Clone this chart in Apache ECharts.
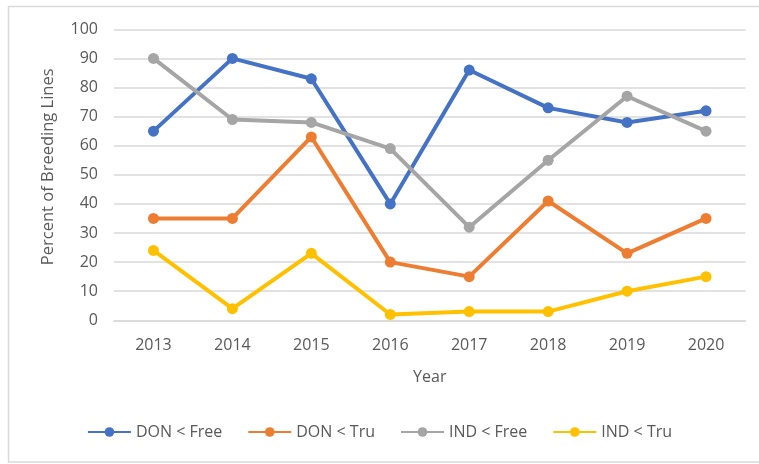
<!DOCTYPE html>
<html><head><meta charset="utf-8">
<script src="https://cdn.jsdelivr.net/npm/echarts@6/dist/echarts.min.js"></script>
<style>html,body{margin:0;padding:0;background:#fff}#c{width:759px;height:464px}</style>
</head><body><div id="c"></div>
<script>
const years = ['2013','2014','2015','2016','2017','2018','2019','2020'];
const donFree = [65, 90, 83, 40, 86, 73, 68, 72];
const donTru = [35, 35, 63, 20, 15, 41, 23, 35];
const indFree = [90, 69, 68, 59, 32, 55, 77, 65];
const indTru = [24, 4, 23, 2, 3, 3, 10, 15];
const seriesNames = ['DON < Free', 'DON < Tru', 'IND < Free', 'IND < Tru'];
const colors = ['#4472C4', '#ED7D31', '#A5A5A5', '#FFC000'];
const allData = [donFree, donTru, indFree, indTru];

const font = '"Open Sans", "Noto Sans", sans-serif';
const chart = echarts.init(document.getElementById('c'), null, {renderer: 'canvas'});
chart.setOption({
  animation: false,
  backgroundColor: '#fff',
  textStyle: {fontFamily: font},
  graphic: [{type: 'rect', shape: {x: 8.5, y: 6.5, width: 760, height: 455.5},
    style: {fill: 'none', stroke: '#d9d9d9', lineWidth: 1.5}, silent: true, z: -1}],
  grid: {left: 114, right: 13.5, top: 29.3, bottom: 143.7},
  xAxis: {
    type: 'category', data: years, boundaryGap: true,
    name: 'Year', nameLocation: 'middle', nameGap: 49,
    nameTextStyle: {color: '#595959', fontSize: 16, fontFamily: font},
    axisLine: {show: true, lineStyle: {color: '#d9d9d9', width: 1.5}},
    axisTick: {show: false},
    axisLabel: {color: '#595959', fontSize: 16, margin: 17, fontFamily: font}
  },
  yAxis: {
    type: 'value', min: 0, max: 100, interval: 10,
    name: 'Percent of Breeding Lines', nameLocation: 'middle', nameGap: 57,
    nameTextStyle: {color: '#595959', fontSize: 16.5, fontFamily: font, padding: [0, 0, 0, 16]},
    axisLine: {show: false}, axisTick: {show: false},
    axisLabel: {color: '#595959', fontSize: 16, margin: 16, fontFamily: font},
    splitLine: {lineStyle: {color: '#d9d9d9', width: 1.5}}
  },
  legend: {
    bottom: 19, left: 'center', itemWidth: 43, itemHeight: 12, itemGap: 25,
    textStyle: {color: '#595959', fontSize: 16, fontFamily: font},
    data: seriesNames
  },
  series: seriesNames.map((n, i) => ({
    name: n, type: 'line', data: allData[i],
    symbol: 'circle', symbolSize: 11,
    lineStyle: {color: colors[i], width: 4},
    itemStyle: {color: colors[i]}
  }))
});
</script></body></html>
